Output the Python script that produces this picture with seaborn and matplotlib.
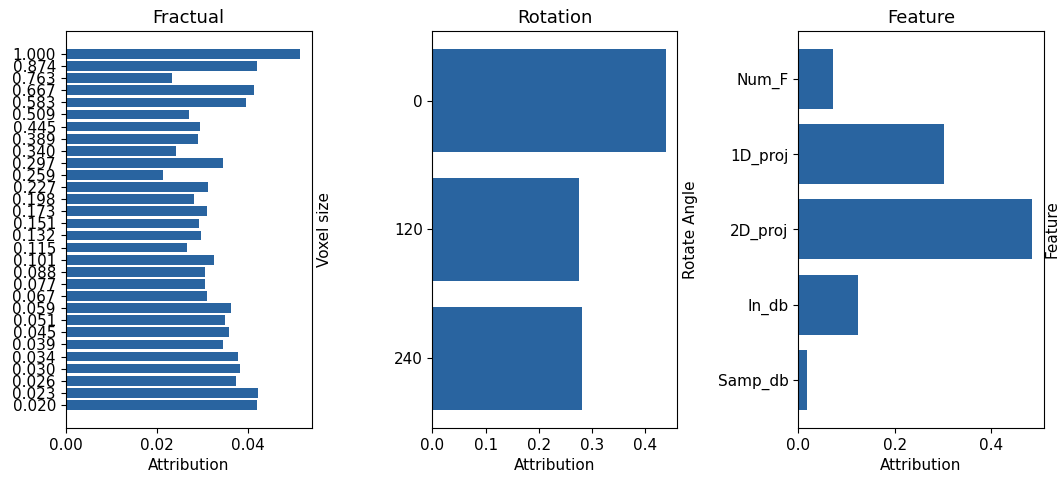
import matplotlib
matplotlib.use("Agg")
import matplotlib.pyplot as plt
import pandas as pd
import seaborn as sns

BAR_COLOR = "#2964a0"

# Fractual panel: voxel sizes (top to bottom) and their attribution
voxel_sizes = ["1.000", "0.874", "0.763", "0.667", "0.583", "0.509", "0.445", "0.389",
               "0.340", "0.297", "0.259", "0.227", "0.198", "0.173", "0.151", "0.132",
               "0.115", "0.101", "0.088", "0.077", "0.067", "0.059", "0.051", "0.045",
               "0.039", "0.034", "0.030", "0.026", "0.023", "0.020"]
voxel_attr = [0.0513, 0.0420, 0.0233, 0.0413, 0.0395, 0.0270, 0.0295, 0.0290,
              0.0241, 0.0345, 0.0213, 0.0312, 0.0282, 0.0310, 0.0293, 0.0297,
              0.0265, 0.0324, 0.0304, 0.0304, 0.0310, 0.0361, 0.0349, 0.0358,
              0.0344, 0.0378, 0.0381, 0.0373, 0.0422, 0.0418]

# Rotation panel
rotate_angles = ["0", "120", "240"]
rotate_attr = [0.4387, 0.2757, 0.2814]

# Feature panel
feature_names = ["Num_F", "1D_proj", "2D_proj", "In_db", "Samp_db"]
feature_attr = [0.0725, 0.3010, 0.4837, 0.1240, 0.0180]

panels = [
    ("Fractual", "Voxel size", voxel_sizes, voxel_attr),
    ("Rotation", "Rotate Angle", rotate_angles, rotate_attr),
    ("Feature", "Feature", feature_names, feature_attr),
]

# axes positions in figure fractions (left, bottom, width, height)
positions = [
    (0.062, 0.105, 0.232, 0.830),
    (0.408, 0.105, 0.231, 0.830),
    (0.753, 0.105, 0.2315, 0.830),
]
label_pads = [4, 4, 0.5]

fig = plt.figure(figsize=(10.6, 4.78), dpi=100)

for (title, ylabel, cats, vals), pos, pad in zip(panels, positions, label_pads):
    ax = fig.add_axes(pos)
    df = pd.DataFrame({"category": cats, "attribution": vals})
    sns.barplot(data=df, x="attribution", y="category", orient="h",
                color=BAR_COLOR, saturation=1, width=0.8, ax=ax)

    # matplotlib-style 5% margins around the bars
    n = len(cats)
    margin = 0.05 * (n - 1 + 0.8)
    ax.set_ylim(n - 1 + 0.4 + margin, -0.4 - margin)
    ax.set_xlim(0, max(vals) * 1.05)

    ax.set_title(title, fontsize=13)
    ax.set_xlabel("Attribution", fontsize=11)
    ax.set_ylabel(ylabel, fontsize=11, labelpad=pad)
    ax.yaxis.set_label_position("right")
    ax.tick_params(labelsize=11)

fig.savefig("out.png", dpi=100)
